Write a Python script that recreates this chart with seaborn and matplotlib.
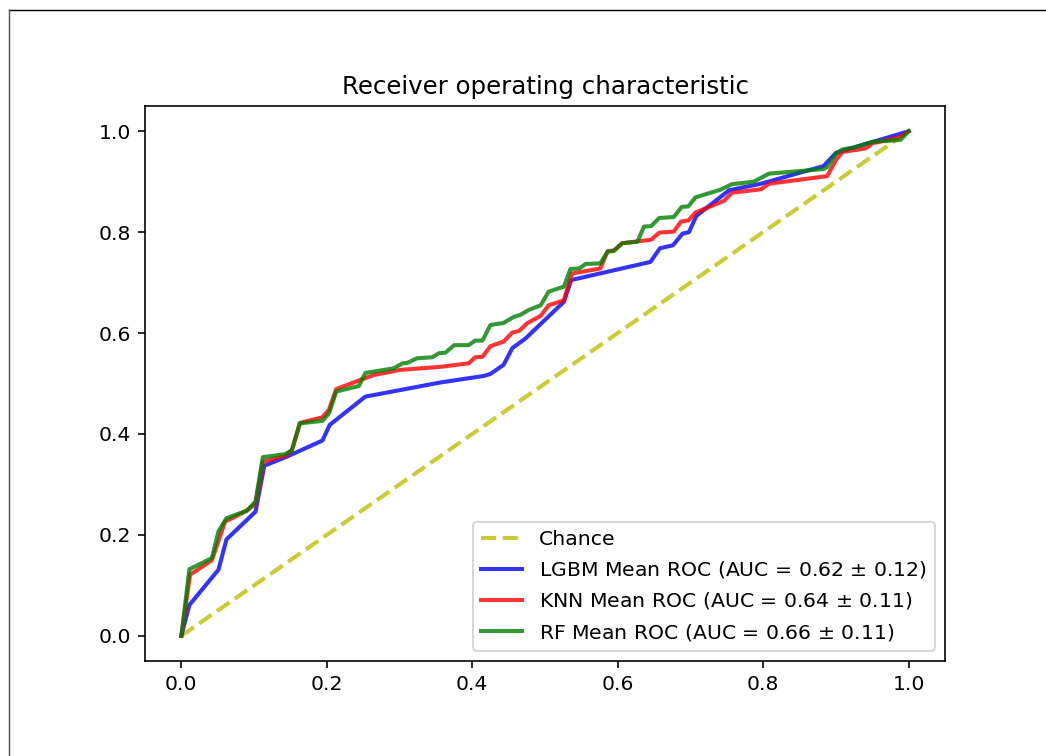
import numpy as np
import pandas as pd
import matplotlib
matplotlib.use("Agg")
import matplotlib.pyplot as plt
from matplotlib.lines import Line2D
import seaborn as sns

# ---- data ----
chance_fpr = [0.0, 1.0]
chance_tpr = [0.0, 1.0]

lgbm_fpr = [0.0, 0.011, 0.051, 0.062, 0.102, 0.114, 0.145, 0.194, 0.204, 0.253, 0.356,
            0.416, 0.425, 0.443, 0.455, 0.473, 0.526, 0.536, 0.645, 0.658, 0.676, 0.689,
            0.698, 0.708, 0.753, 0.797, 0.883, 0.900, 1.0]
lgbm_tpr = [0.0, 0.061, 0.131, 0.191, 0.246, 0.337, 0.355, 0.387, 0.418, 0.474, 0.502,
            0.515, 0.519, 0.537, 0.570, 0.589, 0.662, 0.705, 0.741, 0.768, 0.774, 0.797,
            0.800, 0.832, 0.883, 0.896, 0.931, 0.957, 1.0]

knn_fpr = [0.0, 0.012, 0.042, 0.060, 0.090, 0.102, 0.112, 0.143, 0.152, 0.163, 0.194,
           0.203, 0.213, 0.244, 0.265, 0.301, 0.356, 0.395, 0.404, 0.414, 0.425, 0.443,
           0.455, 0.464, 0.476, 0.494, 0.505, 0.526, 0.537, 0.576, 0.586, 0.595, 0.606,
           0.646, 0.657, 0.677, 0.687, 0.697, 0.707, 0.746, 0.757, 0.797, 0.808, 0.888,
           0.900, 0.909, 0.941, 0.950, 0.987, 1.0]
knn_tpr = [0.0, 0.121, 0.150, 0.226, 0.248, 0.262, 0.345, 0.357, 0.368, 0.422, 0.433,
           0.448, 0.489, 0.506, 0.517, 0.527, 0.533, 0.540, 0.552, 0.553, 0.574, 0.583,
           0.601, 0.604, 0.620, 0.634, 0.655, 0.665, 0.718, 0.728, 0.762, 0.764, 0.778,
           0.785, 0.799, 0.801, 0.821, 0.823, 0.839, 0.862, 0.878, 0.885, 0.896, 0.911,
           0.943, 0.959, 0.966, 0.976, 0.988, 1.0]

rf_fpr = [0.0, 0.011, 0.042, 0.051, 0.062, 0.090, 0.102, 0.112, 0.143, 0.152, 0.163,
          0.194, 0.203, 0.213, 0.244, 0.253, 0.292, 0.304, 0.311, 0.324, 0.345, 0.354,
          0.363, 0.375, 0.395, 0.404, 0.414, 0.425, 0.443, 0.457, 0.466, 0.478, 0.494,
          0.505, 0.526, 0.535, 0.547, 0.556, 0.576, 0.586, 0.595, 0.606, 0.627, 0.636,
          0.646, 0.657, 0.677, 0.688, 0.697, 0.707, 0.741, 0.757, 0.787, 0.808, 0.842,
          0.883, 0.888, 0.900, 0.909, 0.925, 0.950, 0.973, 0.989, 1.0]
rf_tpr = [0.0, 0.132, 0.154, 0.207, 0.233, 0.248, 0.266, 0.354, 0.360, 0.368, 0.421,
          0.426, 0.441, 0.484, 0.495, 0.521, 0.530, 0.540, 0.541, 0.550, 0.552, 0.560,
          0.561, 0.576, 0.576, 0.585, 0.585, 0.616, 0.620, 0.632, 0.636, 0.646, 0.655,
          0.682, 0.692, 0.727, 0.728, 0.737, 0.738, 0.761, 0.763, 0.778, 0.781, 0.811,
          0.812, 0.828, 0.830, 0.850, 0.851, 0.869, 0.884, 0.895, 0.900, 0.916, 0.920,
          0.925, 0.929, 0.956, 0.964, 0.968, 0.979, 0.981, 0.983, 1.0]

labels = ["Chance",
          "LGBM Mean ROC (AUC = 0.62 $\\pm$ 0.12)",
          "KNN Mean ROC (AUC = 0.64 $\\pm$ 0.11)",
          "RF Mean ROC (AUC = 0.66 $\\pm$ 0.11)"]
title = "Receiver operating characteristic"

# ---- figure ----
W, H, DPI = 1046, 756, 147
fig = plt.figure(figsize=(W / DPI, H / DPI), dpi=DPI)
ax = fig.add_axes([145 / W, 1 - 661 / H, 800 / W, 555 / H])

sns.lineplot(x=chance_fpr, y=chance_tpr, ax=ax, color="y", linestyle="--", lw=2,
             alpha=0.8, label=labels[0], sort=False, estimator=None)
for fpr, tpr, col, lab in [(lgbm_fpr, lgbm_tpr, "b", labels[1]),
                           (knn_fpr, knn_tpr, "r", labels[2]),
                           (rf_fpr, rf_tpr, "g", labels[3])]:
    sns.lineplot(x=fpr, y=tpr, ax=ax, color=col, lw=2, alpha=0.8, label=lab,
                 sort=False, estimator=None)

ax.set_xlim(-0.05, 1.05)
ax.set_ylim(-0.05, 1.05)
ax.set_title(title)
ax.legend(loc="lower right")

# thin frame lines from the reference screenshot
fig.add_artist(Line2D([8.5 / W, 1], [1 - 9.5 / H, 1 - 9.5 / H], transform=fig.transFigure,
                      color="black", lw=0.7))
fig.add_artist(Line2D([8.5 / W, 8.5 / W], [0, 1 - 9.5 / H], transform=fig.transFigure,
                      color="#555555", lw=0.7))

fig.savefig("out.png", dpi=DPI)
